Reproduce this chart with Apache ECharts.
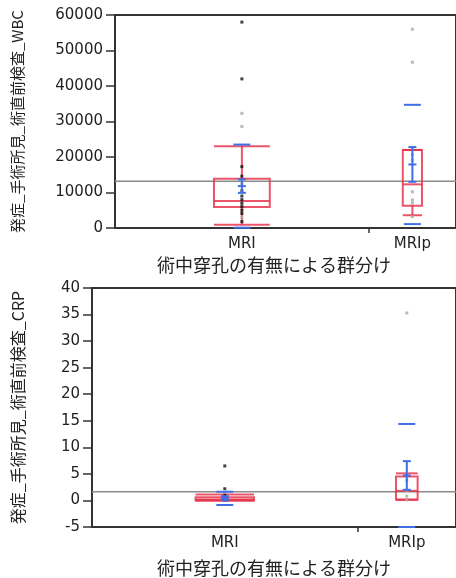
<!DOCTYPE html>
<html>
<head>
<meta charset="utf-8">
<script src="https://cdn.jsdelivr.net/npm/echarts@6/dist/echarts.min.js"></script>
<style>
html,body{margin:0;padding:0;background:#fff;}
#chart{width:456px;height:578px;}
</style>
</head>
<body>
<div id="chart"></div>
<script>
// ---- data ----
const categories = ['MRI', 'MRIp'];
const xTitle = '術中穿孔の有無による群分け';

// WBC panel
const wbcTitle = '発症_手術所見_術直前検査_WBC';
const wbcGroupSizes = [32, 11];
const wbcQ1 = [5900, 6300];
const wbcMedian = [7600, 12300];
const wbcQ3 = [13900, 22000];
const wbcLow = [900, 3600];
const wbcHigh = [23000, 22000];
const wbcMean = [11800, 17900];
const wbcCILow = [9900, 13000];
const wbcCIHigh = [13700, 22800];
const wbcSD = [11700, 16800];
const wbcGrandMean = 13200;
const wbcMRIBlack = [58000, 42000, 17300, 14600, 10500, 9000, 8000, 7000, 6000, 5000, 4100, 1800];
const wbcMRIGrey = [32300, 28600, 12500, 6500, 3000];
const wbcMRIpGrey = [56000, 46700, 20600, 19100, 10200, 7900, 7000, 3200];
const wbcTicks = [0, 60000, 10000];

// CRP panel
const crpTitle = '発症_手術所見_術直前検査_CRP';
const crpGroupSizes = [27, 10];
const crpQ1 = [0.0, 0.2];
const crpMedian = [0.2, 1.8];
const crpQ3 = [0.6, 4.5];
const crpLow = [0.0, 0.1];
const crpHigh = [1.1, 5.1];
const crpMean = [0.39, 4.7];
const crpCILow = [0.0, 2.0];
const crpCIHigh = [0.8, 7.4];
const crpSD = [1.25, 9.7];
const crpGrandMean = 1.64;
const crpMRIBlack = [6.5, 2.2, 1.0, 0.5, 0.2, 0.1];
const crpMRIpGrey = [35.3, 3.8, 1.9, 0.8, 0.1];
const crpTicks = [-5, 40, 5];

// ---- styles ----
const RED = 'rgba(232,48,72,0.82)';
const BLUE = '#3f6fe6';
const AXIS = '#333';
const TXT = '#222';
const NUMFONT = 'DejaVu Sans';
const CJKFONT = 'Noto Sans CJK JP';
const BOX_FRAC = 0.22;

function centersOf(sizes) {
  return [sizes[0] / 2, sizes[0] + sizes[1] / 2];
}

function boxRender(params, api) {
  const xc = api.value(0);
  const n = api.value(6);
  const w = api.size([n, 0])[0] * BOX_FRAC;
  const pq1 = api.coord([xc, api.value(1)]);
  const pmed = api.coord([xc, api.value(2)]);
  const pq3 = api.coord([xc, api.value(3)]);
  const plo = api.coord([xc, api.value(4)]);
  const phi = api.coord([xc, api.value(5)]);
  const x = pq1[0];
  const st = { stroke: RED, lineWidth: 2, fill: null };
  const line = (x1, y1, x2, y2) => ({ type: 'line', shape: { x1, y1, x2, y2 }, style: st });
  return {
    type: 'group',
    children: [
      { type: 'rect', shape: { x: x - w / 2, y: pq3[1], width: w, height: pq1[1] - pq3[1] }, style: st },
      line(x - w / 2, pmed[1], x + w / 2, pmed[1]),
      line(x, pq3[1], x, phi[1]),
      line(x, pq1[1], x, plo[1]),
      line(x - w / 2, phi[1], x + w / 2, phi[1]),
      line(x - w / 2, plo[1], x + w / 2, plo[1])
    ]
  };
}

function meanRender(params, api) {
  const xc = api.value(0);
  const m = api.value(1), lo = api.value(2), hi = api.value(3), sd = api.value(4);
  const pm = api.coord([xc, m]);
  const plo = api.coord([xc, lo]);
  const phi = api.coord([xc, hi]);
  const psu = api.coord([xc, m + sd]);
  const psl = api.coord([xc, m - sd]);
  const x = pm[0];
  const st = { stroke: BLUE, lineWidth: 2, fill: null };
  const line = (x1, y1, x2, y2) => ({ type: 'line', shape: { x1, y1, x2, y2 }, style: st });
  const cw = 4, sw = 8.5;
  return {
    type: 'group',
    children: [
      line(x, phi[1], x, plo[1]),
      line(x - cw, phi[1], x + cw, phi[1]),
      line(x - cw, plo[1], x + cw, plo[1]),
      line(x - cw, pm[1], x + cw, pm[1]),
      line(x - sw, psu[1], x + sw, psu[1]),
      line(x - sw, psl[1], x + sw, psl[1])
    ]
  };
}

function panelSeries(idx, sizes, q1, med, q3, lo, hi, mean, ciL, ciH, sd, gm, groups) {
  const c = centersOf(sizes);
  const total = sizes[0] + sizes[1];
  const boxData = categories.map((_, i) => [c[i], q1[i], med[i], q3[i], lo[i], hi[i], sizes[i]]);
  const meanData = categories.map((_, i) => [c[i], mean[i], ciL[i], ciH[i], sd[i]]);
  const s = [
    {
      type: 'line', xAxisIndex: idx, yAxisIndex: idx, silent: true,
      data: [[0, gm], [total, gm]], symbol: 'none',
      lineStyle: { color: '#8c8c8c', width: 1.5 }, z: 2
    },
    {
      type: 'custom', xAxisIndex: idx, yAxisIndex: idx, renderItem: boxRender,
      data: boxData, z: 3, clip: false
    },
    {
      type: 'custom', xAxisIndex: idx, yAxisIndex: idx, renderItem: meanRender,
      data: meanData, z: 5, clip: false
    }
  ];
  groups.forEach(g => {
    s.push({
      type: 'scatter', xAxisIndex: idx, yAxisIndex: idx, symbol: 'rect', symbolSize: 3,
      itemStyle: { color: g.color }, z: 4, silent: true,
      data: g.values.map(v => [c[g.group], v])
    });
  });
  return s;
}

function xAxisOf(idx, sizes) {
  const c = centersOf(sizes);
  return {
    type: 'value', gridIndex: idx, min: 0, max: sizes[0] + sizes[1],
    splitLine: { show: false },
    axisLine: { show: true, onZero: false, lineStyle: { color: AXIS, width: 2 } },
    axisTick: { show: true, customValues: [sizes[0]], length: 5, lineStyle: { color: AXIS, width: 1.5 } },
    axisLabel: {
      customValues: c, margin: 9, fontSize: 15, fontFamily: NUMFONT, color: TXT,
      formatter: v => categories[c.indexOf(v)] || ''
    }
  };
}

function yAxisOf(idx, ticks, name, gap, nameSize) {
  return {
    type: 'value', gridIndex: idx, min: ticks[0], max: ticks[1], interval: ticks[2],
    name: name, nameLocation: 'middle', nameGap: gap, nameRotate: 90,
    nameTextStyle: { fontSize: nameSize, fontFamily: CJKFONT, color: TXT },
    splitLine: { show: false },
    axisLine: { show: true, onZero: false, lineStyle: { color: AXIS, width: 2 } },
    axisTick: { show: true, length: 9, lineStyle: { color: AXIS, width: 1.5 } },
    axisLabel: { margin: 12, fontSize: 15, fontFamily: NUMFONT, color: TXT, formatter: v => String(v) }
  };
}

const chart = echarts.init(document.getElementById('chart'), null, { renderer: 'canvas' });

const option = {
  animation: false,
  backgroundColor: '#fff',
  grid: [
    { left: 115, right: -3, top: 15, height: 213, show: true, borderColor: AXIS, borderWidth: 2 },
    { left: 92, right: -4, top: 288, height: 239, show: true, borderColor: AXIS, borderWidth: 2 }
  ],
  xAxis: [xAxisOf(0, wbcGroupSizes), xAxisOf(1, crpGroupSizes)],
  yAxis: [yAxisOf(0, wbcTicks, wbcTitle, 90, 15), yAxisOf(1, crpTicks, crpTitle, 66, 16)],
  graphic: [
    { type: 'text', x: 274, y: 265, style: { text: xTitle, fontSize: 18, fontFamily: CJKFONT, fill: TXT, align: 'center', verticalAlign: 'middle' } },
    { type: 'text', x: 274, y: 568, style: { text: xTitle, fontSize: 18, fontFamily: CJKFONT, fill: TXT, align: 'center', verticalAlign: 'middle' } }
  ],
  series: [].concat(
    panelSeries(0, wbcGroupSizes, wbcQ1, wbcMedian, wbcQ3, wbcLow, wbcHigh, wbcMean, wbcCILow, wbcCIHigh, wbcSD, wbcGrandMean, [
      { group: 0, values: wbcMRIGrey, color: '#a8a8a8' },
      { group: 0, values: wbcMRIBlack, color: '#111' },
      { group: 1, values: wbcMRIpGrey, color: '#a8a8a8' }
    ]),
    panelSeries(1, crpGroupSizes, crpQ1, crpMedian, crpQ3, crpLow, crpHigh, crpMean, crpCILow, crpCIHigh, crpSD, crpGrandMean, [
      { group: 0, values: crpMRIBlack, color: '#111' },
      { group: 1, values: crpMRIpGrey, color: '#a8a8a8' }
    ])
  )
};
chart.setOption(option);
</script>
</body>
</html>
